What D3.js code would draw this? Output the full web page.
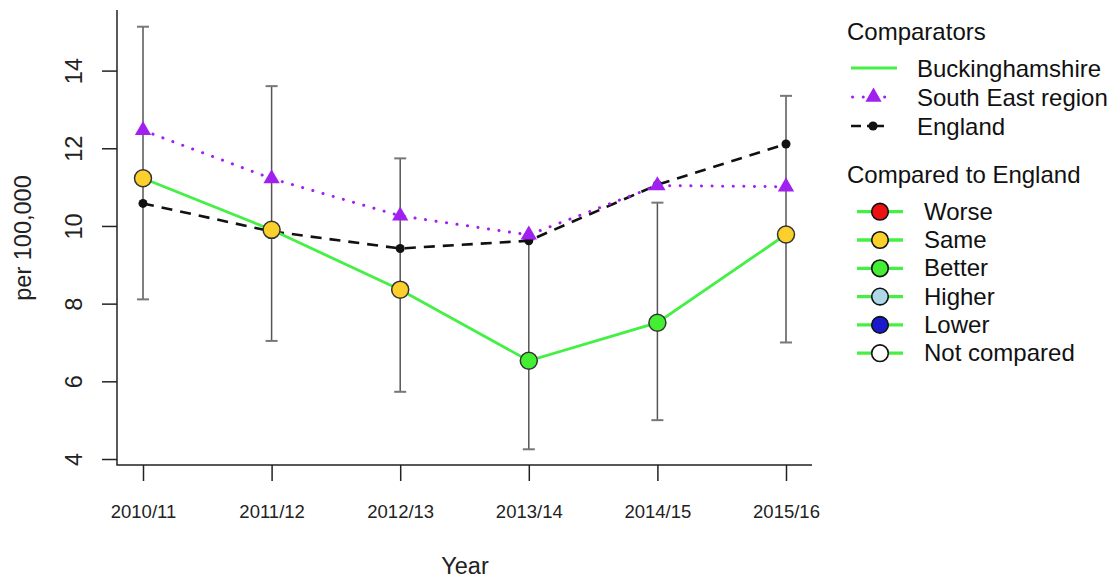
<!DOCTYPE html>
<html>
<head>
<meta charset="utf-8">
<script src="https://cdn.jsdelivr.net/npm/d3@7"></script>
<style>
  html, body { margin: 0; padding: 0; background: #fff; }
  svg { display: block; }
  .sans { font-family: "Liberation Sans", Arial, sans-serif; }
  .narrow { font-family: "Liberation Sans Narrow", "Liberation Sans", Arial, sans-serif; }
</style>
</head>
<body>
<svg id="chart" width="1112" height="579"></svg>
<script>
// Years on the x axis
const years = ["2010/11", "2011/12", "2012/13", "2013/14", "2014/15", "2015/16"];

// Buckinghamshire rate per 100,000 with 95% confidence limits
const bucksValues = [11.23, 9.90, 8.36, 6.53, 7.51, 9.78];
const bucksLower  = [8.11, 7.04, 5.73, 4.25, 5.00, 7.00];
const bucksUpper  = [15.13, 13.60, 11.74, 9.66, 10.60, 13.35];
// Comparison with England for each year
const bucksCompared = ["Same", "Same", "Same", "Better", "Better", "Same"];

// Comparator series
const southEastValues = [12.46, 11.22, 10.26, 9.77, 11.04, 11.01];
const englandValues   = [10.58, 9.86, 9.42, 9.62, 11.06, 12.11];

// Axis ticks
const yTicks = [4, 6, 8, 10, 12, 14];

// Legend entries
const comparatorNames = ["Buckinghamshire", "South East region", "England"];
const comparisonLabels = ["Worse", "Same", "Better", "Higher", "Lower", "Not compared"];
const comparisonColours = ["#ee1111", "#fbd02c", "#44ee33", "#add8e6", "#1a1acc", "#ffffff"];

const colourFor = d3.scaleOrdinal(comparisonLabels, comparisonColours);
const lineGreen = "#44f044";
const purple = "#a020f0";

const svg = d3.select("#chart");

const x = d3.scalePoint(years, [143, 786]);
const y = d3.scaleLinear([4, 14], [459, 70.6]);

// Frame: left and bottom lines
svg.append("path")
  .attr("d", "M117,10V465H812")
  .attr("fill", "none").attr("stroke", "#222").attr("stroke-width", 1.5);

// Y axis
const yAxis = svg.append("g").attr("transform", "translate(117,0)")
  .call(d3.axisLeft(y).tickValues(yTicks).tickSize(15).tickPadding(0).tickFormat(d3.format("d")));
yAxis.select(".domain").remove();
yAxis.selectAll(".tick line").attr("stroke", "#222").attr("stroke-width", 1.5);
yAxis.selectAll(".tick text")
  .attr("class", "sans")
  .attr("x", 0).attr("dy", null)
  .attr("transform", "translate(-43,0) rotate(-90)")
  .attr("text-anchor", "middle")
  .attr("dominant-baseline", "central")
  .attr("font-size", 23.5)
  .attr("fill", "#222");

// X axis
const xAxis = svg.append("g").attr("transform", "translate(0,465)")
  .call(d3.axisBottom(x).tickSize(16).tickPadding(0));
xAxis.select(".domain").remove();
xAxis.selectAll(".tick line").attr("stroke", "#222").attr("stroke-width", 1.5);
xAxis.selectAll(".tick text")
  .attr("class", "narrow")
  .attr("y", 53).attr("dy", null)
  .attr("font-size", 18.5)
  .attr("fill", "#222");

// Axis titles
svg.append("text").attr("class", "sans")
  .attr("transform", "translate(31,238) rotate(-90)")
  .attr("text-anchor", "middle")
  .attr("font-size", 23.5).attr("fill", "#222")
  .text("per 100,000");

svg.append("text").attr("class", "sans")
  .attr("x", 465).attr("y", 574)
  .attr("text-anchor", "middle")
  .attr("font-size", 23.5).attr("fill", "#222")
  .text("Year");

// Confidence interval bars
const ci = svg.append("g").attr("stroke", "#555").attr("stroke-width", 1.5);
years.forEach((yr, i) => {
  const cx = x(yr);
  ci.append("line").attr("x1", cx).attr("x2", cx).attr("y1", y(bucksLower[i])).attr("y2", y(bucksUpper[i]));
  ci.append("line").attr("x1", cx - 6).attr("x2", cx + 6).attr("y1", y(bucksLower[i])).attr("y2", y(bucksLower[i])).attr("stroke", "#777").attr("stroke-width", 2);
  ci.append("line").attr("x1", cx - 6).attr("x2", cx + 6).attr("y1", y(bucksUpper[i])).attr("y2", y(bucksUpper[i])).attr("stroke", "#777").attr("stroke-width", 2);
});

const line = d3.line().x(d => x(d[0])).y(d => y(d[1]));

// England: dashed black line with dots
svg.append("path")
  .attr("d", line(years.map((yr, i) => [yr, englandValues[i]])))
  .attr("fill", "none").attr("stroke", "#111").attr("stroke-width", 2.6)
  .attr("stroke-dasharray", "11,8");
svg.selectAll(".eng").data(englandValues).join("circle")
  .attr("cx", (d, i) => x(years[i])).attr("cy", d => y(d))
  .attr("r", 4.5).attr("fill", "#111");

// South East region: dotted purple line with triangles
svg.append("path")
  .attr("d", line(years.map((yr, i) => [yr, southEastValues[i]])))
  .attr("fill", "none").attr("stroke", purple).attr("stroke-width", 3)
  .attr("stroke-linecap", "round")
  .attr("stroke-dasharray", "0.1,10.5");
const tri = d3.symbol().type(d3.symbolTriangle).size(115);
svg.selectAll(".se").data(southEastValues).join("path")
  .attr("d", tri)
  .attr("transform", (d, i) => `translate(${x(years[i])},${y(d)})`)
  .attr("fill", purple);

// Buckinghamshire: solid green line with circles coloured by comparison
svg.append("path")
  .attr("d", line(years.map((yr, i) => [yr, bucksValues[i]])))
  .attr("fill", "none").attr("stroke", lineGreen).attr("stroke-width", 2.8);
svg.selectAll(".bucks").data(bucksValues).join("circle")
  .attr("cx", (d, i) => x(years[i])).attr("cy", d => y(d))
  .attr("r", 8.5)
  .attr("fill", (d, i) => colourFor(bucksCompared[i]))
  .attr("stroke", "#333").attr("stroke-width", 1.5);

// Legend: comparators
const leg = svg.append("g").attr("class", "sans").attr("fill", "#111");
leg.append("text").attr("x", 847).attr("y", 40).attr("font-size", 24).text("Comparators");

const compRowY = [68, 97, 126];
comparatorNames.forEach((name, i) => {
  leg.append("text").attr("x", 917).attr("y", compRowY[i] + 8.5).attr("font-size", 24).text(name);
});
leg.append("line").attr("x1", 851).attr("x2", 897).attr("y1", compRowY[0]).attr("y2", compRowY[0])
  .attr("stroke", lineGreen).attr("stroke-width", 3);
leg.append("line").attr("x1", 852.5).attr("x2", 886).attr("y1", compRowY[1]).attr("y2", compRowY[1])
  .attr("stroke", purple).attr("stroke-width", 3).attr("stroke-linecap", "round")
  .attr("stroke-dasharray", "0.1,10.6");
leg.append("path").attr("d", tri).attr("transform", `translate(873.5,${compRowY[1]})`).attr("fill", purple);
leg.append("line").attr("x1", 851).attr("x2", 884).attr("y1", compRowY[2]).attr("y2", compRowY[2])
  .attr("stroke", "#111").attr("stroke-width", 2.6).attr("stroke-dasharray", "10,6,17,100");
leg.append("circle").attr("cx", 873).attr("cy", compRowY[2]).attr("r", 4.6).attr("fill", "#111");

// Legend: comparison with England
leg.append("text").attr("x", 847).attr("y", 183).attr("font-size", 24).text("Compared to England");
comparisonLabels.forEach((lab, i) => {
  const ry = 211.7 + i * 28.3;
  leg.append("line").attr("x1", 857).attr("x2", 903).attr("y1", ry).attr("y2", ry)
    .attr("stroke", lineGreen).attr("stroke-width", 3.3);
  leg.append("circle").attr("cx", 880).attr("cy", ry).attr("r", 8.3)
    .attr("fill", colourFor(lab)).attr("stroke", "#111").attr("stroke-width", 1.6);
  leg.append("text").attr("x", 924).attr("y", ry + 8).attr("font-size", 24).text(lab);
});
</script>
</body>
</html>
